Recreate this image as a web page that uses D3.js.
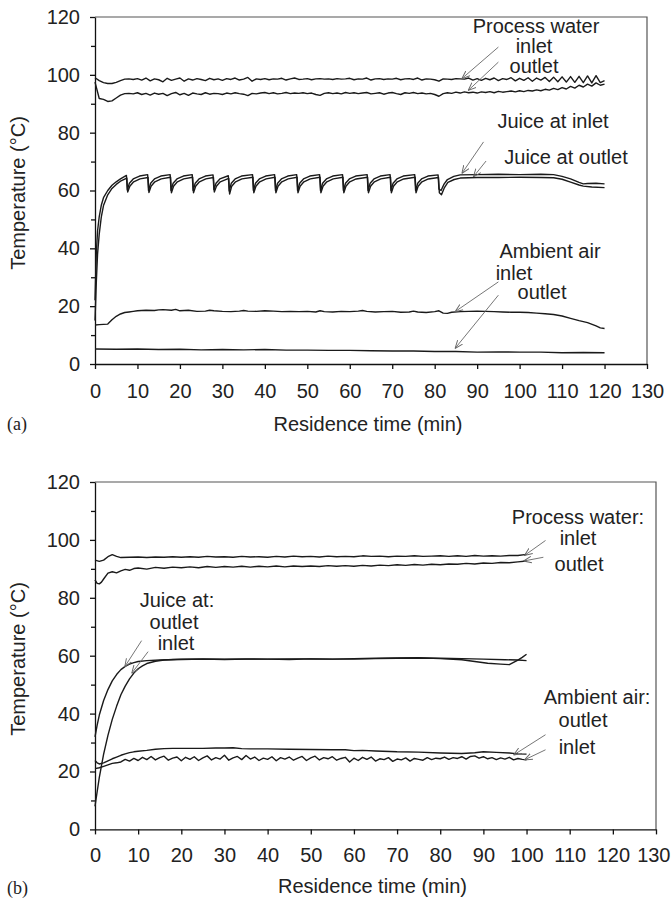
<!DOCTYPE html>
<html>
<head>
<meta charset="utf-8">
<script src="https://cdn.jsdelivr.net/npm/d3@7"></script>
<style>
  body { margin: 0; background: #fff; }
  svg { display: block; }
  .axis path, .axis line { stroke: #111; stroke-width: 1.3; }
  .axis text { fill: #222; }
</style>
</head>
<body>
<div id="chart"></div>
<script>
// ---- data ----
const xTicks = [0, 10, 20, 30, 40, 50, 60, 70, 80, 90, 100, 110, 120, 130];
const yTicks = [0, 20, 40, 60, 80, 100, 120];
const yMinorTicks = [10, 30, 50, 70, 90, 110];

// (a) process water, sampled once a minute, 0..120 min
const minutesA = d3.range(0, 121);
const waterInA = [
  99.0, 98.0, 97.3, 97.0, 97.0, 97.4, 98.0, 98.5, 98.6, 98.4,
  98.7, 98.2, 98.9, 97.9, 98.6, 98.3, 97.6, 98.8, 98.1, 98.5,
  98.9, 97.8, 98.6, 98.2, 98.7, 98.4, 98.0, 98.8, 98.3, 98.6,
  98.1, 98.7, 98.4, 98.9, 98.2, 98.5, 99.1, 97.8, 98.6, 98.4,
  98.7, 98.3, 98.6, 98.5, 98.8, 98.2, 98.6, 98.9, 98.4, 98.5,
  98.7, 98.3, 98.6, 98.7, 98.5, 98.6, 98.4, 98.7, 98.5, 98.6,
  98.8, 98.3, 98.6, 98.5, 98.9, 98.2, 98.6, 98.7, 98.4, 98.6,
  98.5, 98.8, 98.3, 98.6, 98.7, 98.4, 98.9, 98.2, 98.6, 98.5,
  98.3, 97.8, 98.6, 98.5, 98.4, 98.7, 98.6, 98.5, 98.9, 98.2,
  98.7, 98.1, 98.8, 98.3, 98.9, 98.0, 98.7, 98.4, 99.0, 97.9,
  98.8, 98.1, 99.0, 97.8, 98.9, 98.2, 99.1, 97.7, 99.2, 97.6,
  99.3, 97.5, 99.4, 97.4, 99.5, 97.3, 99.6, 97.2, 99.7, 97.3, 98.0
];
const waterOutA = [
  97.5, 91.8, 91.5, 90.8, 91.0, 92.0, 93.0, 93.5, 93.6, 93.4,
  93.8, 93.2, 93.6, 93.0, 93.7, 93.3, 93.6, 92.8, 93.5, 93.9,
  93.1, 93.6, 92.9, 93.7, 93.4, 93.2, 93.8, 93.3, 93.6, 93.5,
  93.2, 93.7, 93.4, 93.8, 93.5, 93.3, 92.8, 93.6, 93.4, 93.7,
  93.9, 93.5, 93.8, 93.4, 93.6, 93.9, 93.5, 93.7, 93.6, 93.8,
  93.5, 93.7, 93.2, 92.9, 93.6, 93.8, 93.5, 93.7, 93.4, 93.9,
  93.6, 93.8, 93.5, 93.7, 93.9, 93.4, 93.6, 93.8, 93.3, 93.7,
  93.9, 93.5, 93.2, 93.8, 93.6, 93.9, 93.5, 93.7, 93.4, 93.6,
  93.2, 92.6, 93.5, 93.8, 93.6, 94.0, 93.7, 94.1, 93.8, 94.0,
  93.7, 94.1, 93.9, 94.2, 93.8, 94.3, 94.0, 94.2, 94.4, 94.1,
  94.5, 94.2, 94.6, 94.4, 94.8, 94.5, 95.0, 94.7, 95.3, 94.9,
  95.6, 95.1, 96.0, 95.4, 96.4, 95.8, 96.8, 96.1, 97.2, 96.4, 96.8
];

// (a) juice, [min, degC]
const juiceInA = [
  [0, 22], [0.3, 38], [0.6, 46], [1, 51], [1.5, 55], [2, 57.5], [3, 60], [4, 61.8], [5, 63], [6, 64], [7.4, 65.2],
  [7.6, 60.2], [8.1, 62.5], [9, 64], [10.5, 65], [12.4, 65.5],
  [12.6, 60], [13.1, 62.5], [14, 64], [15.5, 65], [17.7, 65.5],
  [17.9, 60], [18.4, 62.5], [19.3, 64], [20.8, 65], [22.9, 65.5],
  [23.1, 60], [23.6, 62.5], [24.5, 64], [26, 65], [27.8, 65.4],
  [28, 60.3], [28.5, 62.5], [29.4, 64], [31.4, 65.1],
  [31.6, 59.8], [32.1, 62.5], [33, 64], [34.5, 65], [37.1, 65.5],
  [37.3, 60], [37.8, 62.5], [38.7, 64], [40.2, 65], [42.3, 65.5],
  [42.5, 60], [43, 62.5], [43.9, 64], [45.4, 65], [47.5, 65.5],
  [47.7, 60], [48.2, 62.5], [49.1, 64], [50.6, 65], [52.9, 65.5],
  [53.1, 60], [53.6, 62.5], [54.5, 64], [56, 65], [58.3, 65.5],
  [58.5, 60], [59, 62.5], [59.9, 64], [61.4, 65], [64.1, 65.5],
  [64.3, 60], [64.8, 62.5], [65.7, 64], [67.2, 65], [69.5, 65.5],
  [69.7, 60], [70.2, 62.5], [71.1, 64], [72.6, 65], [75.3, 65.5],
  [75.5, 60], [76, 62.5], [76.9, 64], [78.4, 65], [80.8, 65.4],
  [81, 60.5], [81.5, 60], [82.2, 62.2], [83, 63.8], [84.5, 64.9], [86, 65.4], [90, 65.5], [95, 65.6],
  [100, 65.5], [105, 65.6], [108, 65.5], [110, 64.9], [112, 64], [114, 62.8], [115, 62.3], [116, 62.4],
  [118, 62.5], [120, 62.3]
];
const juiceOutA = [
  [0, 15], [0.3, 28], [0.6, 38], [1, 45], [1.5, 51], [2, 54.8], [3, 58.5], [4, 60.7], [5, 62.1], [6, 63.2], [7.5, 64.3],
  [7.7, 59.5], [8.2, 61.5], [9.1, 63], [10.6, 64], [12.5, 64.5],
  [12.7, 59.3], [13.2, 61.5], [14.1, 63], [15.6, 64], [17.8, 64.6],
  [18, 59.2], [18.5, 61.5], [19.4, 63], [20.9, 64], [23, 64.6],
  [23.2, 59.2], [23.7, 61.5], [24.6, 63], [26.1, 64], [27.9, 64.5],
  [28.1, 59.5], [28.6, 61.5], [29.5, 63], [31.5, 64.2],
  [31.7, 58.8], [32.2, 61.5], [33.1, 63], [34.6, 64], [37.2, 64.6],
  [37.4, 59.2], [37.9, 61.5], [38.8, 63], [40.3, 64], [42.4, 64.6],
  [42.6, 59.2], [43.1, 61.5], [44, 63], [45.5, 64], [47.6, 64.6],
  [47.8, 59.2], [48.3, 61.5], [49.2, 63], [50.7, 64], [53, 64.6],
  [53.2, 59.2], [53.7, 61.5], [54.6, 63], [56.1, 64], [58.4, 64.6],
  [58.6, 59.2], [59.1, 61.5], [60, 63], [61.5, 64], [64.2, 64.6],
  [64.4, 59.2], [64.9, 61.5], [65.8, 63], [67.3, 64], [69.6, 64.6],
  [69.8, 59.2], [70.3, 61.5], [71.2, 63], [72.7, 64], [75.4, 64.6],
  [75.6, 59.2], [76.1, 61.5], [77, 63], [78.5, 64], [80.9, 64.5],
  [81.1, 59.2], [81.6, 58.5], [82.3, 61], [83.1, 62.8], [84.6, 63.8], [86, 64.3], [90, 64.5], [95, 64.5],
  [100, 64.6], [105, 64.5], [108, 64.4], [110, 63.9], [112, 62.9], [114, 61.9], [115, 61.5], [117, 61.2], [120, 61]
];

// (a) ambient air
const airInA = [
  [0, 13.5], [1, 13.6], [2, 13.7], [3, 13.8], [4, 15.3], [5, 16.5], [6, 17.3], [7, 17.8], [8, 18.0], [9, 18.2],
  [10, 18.4], [12, 18.6], [14, 18.5], [15, 18.7], [16, 18.8], [18, 18.6], [19, 18.9], [20, 18.4], [22, 18.6],
  [24, 18.2], [26, 18.3], [27, 18.6], [28, 18.4], [30, 18.2], [32, 18.1], [34, 18.3], [35, 18.5], [36, 18.3],
  [38, 18.2], [40, 18.4], [42, 18.3], [44, 18.1], [46, 18.2], [48, 18.1], [50, 18.2], [52, 18.0], [53, 18.4],
  [54, 18.1], [56, 18.0], [58, 18.2], [60, 18.1], [62, 18.3], [63, 18.5], [64, 18.2], [66, 18.0], [68, 18.1],
  [70, 18.2], [72, 17.9], [74, 18.0], [75, 18.3], [76, 18.0], [78, 17.8], [80, 18.1], [81, 18.4], [82, 17.6],
  [83, 17.5], [84, 17.9], [86, 18.1], [88, 18.2], [90, 18.3], [92, 18.2], [94, 18.1], [96, 18.0], [98, 17.9],
  [100, 17.9], [102, 17.8], [104, 17.6], [106, 17.4], [108, 17.1], [110, 16.6], [112, 15.8], [114, 15.0],
  [116, 14.3], [118, 13.2], [119, 12.5], [120, 12.3]
];
const airOutA = [
  [0, 5.2], [5, 5.1], [10, 5.2], [15, 5.0], [20, 5.1], [25, 4.9], [30, 5.0], [35, 4.9], [40, 5.0], [45, 4.8],
  [50, 4.8], [55, 4.7], [60, 4.7], [65, 4.6], [70, 4.5], [75, 4.5], [80, 4.3], [85, 4.3], [90, 4.1], [95, 4.2],
  [100, 4.1], [105, 4.1], [110, 3.9], [115, 4.0], [120, 3.9]
];

// (b) process water
const waterInB = [
  [0, 93.0], [1, 92.6], [2, 93.0], [3, 94.2], [4, 94.9], [5, 94.3], [6, 93.9], [8, 94.0], [10, 94.1], [12, 93.9],
  [14, 94.1], [16, 94.0], [18, 94.2], [20, 94.0], [22, 94.2], [24, 94.0], [26, 94.3], [28, 94.1], [30, 94.2],
  [32, 94.0], [34, 94.3], [36, 94.1], [38, 94.2], [40, 94.0], [42, 94.3], [44, 94.1], [46, 94.4], [48, 94.2],
  [50, 94.3], [52, 94.1], [54, 94.4], [56, 94.2], [58, 94.3], [60, 94.2], [62, 94.5], [64, 94.3], [66, 94.4],
  [68, 94.2], [70, 94.4], [72, 94.3], [74, 94.5], [76, 94.3], [78, 94.4], [80, 94.5], [82, 94.3], [84, 94.5],
  [86, 94.3], [88, 94.6], [90, 94.4], [92, 94.5], [94, 94.4], [96, 94.6], [98, 94.6], [100, 95.0]
];
const waterOutB = [
  [0, 86.2], [0.5, 85.0], [1, 84.8], [1.5, 85.4], [2, 86.5], [3, 88.5], [4, 89.0], [5, 88.6], [6, 89.3], [7, 89.8],
  [8, 89.5], [9, 90.1], [10, 90.3], [12, 89.9], [14, 90.5], [16, 90.2], [18, 90.6], [20, 90.4], [22, 90.7],
  [24, 90.4], [26, 90.8], [28, 90.5], [30, 90.8], [32, 90.6], [34, 90.9], [36, 90.6], [38, 90.9], [40, 90.7],
  [42, 91.0], [44, 90.7], [46, 91.0], [48, 90.8], [50, 91.0], [52, 90.8], [54, 91.1], [56, 90.9], [58, 91.1],
  [60, 90.9], [62, 91.2], [64, 91.0], [66, 91.3], [68, 91.1], [70, 91.4], [72, 91.2], [74, 91.5], [76, 91.3],
  [78, 91.6], [80, 91.4], [82, 91.7], [84, 91.6], [86, 91.9], [88, 91.7], [90, 92.0], [92, 91.9], [94, 92.2],
  [96, 92.1], [98, 92.4], [100, 92.7]
];

// (b) juice
const juiceInB = [
  [0, 8], [0.5, 13], [1, 18], [2, 26], [3, 32.5], [4, 38], [5, 42.5], [6, 46.5], [7, 49.5], [8, 52], [9, 54],
  [10, 55.5], [11, 56.5], [12, 57.3], [14, 58.1], [16, 58.5], [18, 58.7], [20, 58.8], [25, 58.9], [30, 58.8],
  [35, 58.9], [40, 58.8], [45, 58.9], [50, 58.9], [55, 58.8], [60, 59.0], [65, 59.1], [70, 59.2], [75, 59.3],
  [80, 59.0], [85, 58.6], [88, 58.0], [91, 57.4], [94, 57.1], [96, 56.9], [97, 57.7], [98, 58.5], [99, 59.4], [100, 60.5]
];
const juiceOutB = [
  [0, 32], [0.5, 36], [1, 39.5], [2, 44.5], [3, 48.3], [4, 51.3], [5, 53.5], [6, 55.2], [7, 56.3], [8, 57.1],
  [9, 57.6], [10, 58.0], [12, 58.3], [15, 58.5], [20, 58.7], [25, 58.8], [30, 58.7], [35, 58.8], [40, 58.8],
  [45, 58.7], [50, 58.9], [55, 58.8], [60, 58.8], [65, 59.0], [70, 59.1], [75, 59.2], [80, 59.1], [85, 59.0],
  [90, 58.8], [95, 58.6], [98, 58.5], [100, 58.3]
];

// (b) ambient air; inlet sampled once a minute, 0..100 min
const minutesB = d3.range(0, 101);
const airInB = [
  21.0, 21.3, 21.8, 22.3, 22.8, 23.0, 23.3, 24.2, 23.6, 24.5,
  23.8, 24.9, 24.1, 25.2, 24.0, 24.8, 25.3, 23.9, 24.6, 25.0,
  23.7, 24.9, 24.2, 25.1, 23.8, 24.7, 25.4, 24.0, 24.8, 24.3,
  25.6, 23.9, 24.7, 25.2, 24.1, 25.5, 24.3, 25.0, 23.8, 24.6,
  24.2, 25.1, 23.7, 24.8, 24.3, 25.0, 23.9, 24.6, 25.2, 23.8,
  24.7, 25.3, 24.0, 24.8, 24.4, 25.1, 23.9, 24.5, 24.9, 23.3,
  24.6, 23.8, 24.9, 24.2, 25.0, 23.6, 24.4, 24.1, 24.8, 23.5,
  24.3, 24.0, 24.7, 23.6, 24.5, 24.2, 23.9, 24.8, 24.1, 24.6,
  24.4, 25.0, 24.2, 24.8, 24.5, 25.1, 24.3, 25.2, 25.4, 24.6,
  25.1, 24.4, 24.8, 24.1, 24.7, 24.3, 24.9, 24.0, 24.5, 24.2,
  24.0
];
const airOutB = [
  [0, 23.8], [0.5, 23.0], [1, 22.6], [2, 23.0], [3, 23.7], [4, 24.4], [5, 25.0], [6, 25.6], [7, 26.1], [8, 26.5],
  [9, 26.8], [10, 27.0], [12, 27.3], [14, 27.7], [16, 27.9], [18, 28.0], [20, 28.0], [25, 28.0], [28, 28.1],
  [30, 28.1], [32, 28.2], [34, 27.9], [36, 27.8], [40, 27.8], [45, 27.7], [50, 27.6], [55, 27.5], [58, 27.5],
  [60, 27.2], [62, 27.3], [65, 27.1], [70, 26.8], [75, 26.7], [80, 26.4], [85, 26.2], [88, 26.5], [90, 26.8],
  [93, 26.6], [96, 26.4], [98, 26.1], [100, 26.0]
];

// pointer lines: [tail t, tail T, tip t, tip T] in data units
const arrowsA = [
  [95.0, 109.6, 86.4, 98.7], [95.0, 104.4, 87.9, 94.6],
  [91.5, 76.8, 86.4, 65.9], [92.1, 70.2, 89.1, 64.7],
  [95.0, 28.4, 84.8, 18.1], [95.0, 23.8, 84.8, 5.4]
];
const arrowsB = [
  [104.4, 99.8, 99.5, 94.6], [103.9, 94.0, 99.3, 92.7],
  [10.8, 65.2, 6.9, 56.2], [12.3, 61.4, 8.5, 53.9],
  [104.4, 32.7, 97.0, 25.7], [104.4, 27.5, 99.5, 24.0]
];
const labelsA = ["Process water", "inlet", "outlet", "Juice at inlet", "Juice at outlet", "Ambient air", "inlet", "outlet"];
const labelsB = ["Process water:", "inlet", "outlet", "Juice at:", "outlet", "inlet", "Ambient air:", "outlet", "inlet"];

// ---- layout ----
const FONT = "'Liberation Sans', Arial, Helvetica, sans-serif";
const width = 671, height = 900;

const svg = d3.select("#chart").append("svg")
  .attr("width", width).attr("height", height)
  .style("background", "#fff");

const defs = svg.append("defs");
defs.append("marker")
  .attr("id", "tip")
  .attr("viewBox", "0 0 10 10")
  .attr("refX", 10).attr("refY", 5)
  .attr("markerWidth", 8).attr("markerHeight", 8)
  .attr("markerUnits", "userSpaceOnUse")
  .attr("orient", "auto")
  .append("path")
  .attr("d", "M0,1 L10,5 L0,9")
  .attr("fill", "none")
  .attr("stroke", "#666")
  .attr("stroke-width", 1.2);

const panels = [
  {
    left: 95, right: 647, top: 17, bottom: 364, padX: 15,
    tag: "(a)", tagY: 430, titleY: 431, yTitleY: 193,
    series: [
      minutesA.map((t, i) => [t, waterInA[i]]),
      minutesA.map((t, i) => [t, waterOutA[i]]),
      juiceInA, juiceOutA, airInA, airOutA
    ],
    arrows: arrowsA,
    labels: labelsA,
    labelPos: [[536, 33], [534, 53], [534, 73], [553, 128], [566, 164], [550, 258], [514, 280], [542, 299]]
  },
  {
    left: 95, right: 656, top: 482, bottom: 829.4, padX: 13,
    tag: "(b)", tagY: 894, titleY: 893, yTitleY: 659,
    series: [
      waterInB, waterOutB, juiceInB, juiceOutB,
      minutesB.map((t, i) => [t, airInB[i]]),
      airOutB
    ],
    arrows: arrowsB,
    labels: labelsB,
    labelPos: [[578, 524], [578, 545], [579, 571], [177, 607], [174, 629], [176, 650], [597, 704], [583, 727], [577, 754]]
  }
];

panels.forEach(drawPanel);

function drawPanel(p) {
  const x = d3.scaleLinear().domain([0, 130]).range([p.left, p.right]);
  const y = d3.scaleLinear().domain([0, 120]).range([p.bottom, p.top]);

  // frame on top and right
  svg.append("path")
    .attr("d", `M${p.left},${p.top}H${p.right}V${p.bottom}`)
    .attr("fill", "none")
    .attr("stroke", "#555")
    .attr("stroke-width", 1.2);

  // y axis, minor ticks first
  svg.append("g")
    .attr("class", "axis")
    .attr("transform", `translate(${p.left},0)`)
    .call(d3.axisLeft(y).tickValues(yMinorTicks).tickSize(4).tickFormat(""))
    .select(".domain").remove();

  svg.append("g")
    .attr("class", "axis")
    .attr("transform", `translate(${p.left},0)`)
    .call(d3.axisLeft(y).tickValues(yTicks).tickSize(5).tickSizeOuter(0).tickPadding(10))
    .attr("font-family", FONT)
    .attr("font-size", 20);

  const xAxisG = svg.append("g")
    .attr("class", "axis")
    .attr("transform", `translate(0,${p.bottom})`)
    .call(d3.axisBottom(x).tickValues(xTicks).tickSize(5).tickSizeOuter(0).tickPadding(p.padX))
    .attr("font-family", FONT)
    .attr("font-size", 20);

  // keep the last label inside the page
  xAxisG.selectAll(".tick text")
    .filter(d => x(d) + 17 > width)
    .attr("text-anchor", "end")
    .attr("dx", width - 1 - x(130));

  // series
  const line = d3.line().x(d => x(d[0])).y(d => y(d[1]));
  p.series.forEach(s => {
    svg.append("path")
      .datum(s)
      .attr("d", line)
      .attr("fill", "none")
      .attr("stroke", "#1a1a1a")
      .attr("stroke-width", 1.4)
      .attr("stroke-linejoin", "round");
  });

  // pointer lines
  p.arrows.forEach(a => {
    svg.append("line")
      .attr("x1", x(a[0])).attr("y1", y(a[1]))
      .attr("x2", x(a[2])).attr("y2", y(a[3]))
      .attr("stroke", "#666")
      .attr("stroke-width", 0.9)
      .attr("marker-end", "url(#tip)");
  });

  // annotation text
  p.labels.forEach((txt, i) => {
    svg.append("text")
      .attr("x", p.labelPos[i][0])
      .attr("y", p.labelPos[i][1])
      .attr("text-anchor", "middle")
      .attr("font-family", FONT)
      .attr("font-size", 20)
      .attr("fill", "#222")
      .text(txt);
  });

  // axis titles
  svg.append("text")
    .attr("x", (p.left + p.right) / 2 - 3)
    .attr("y", p.titleY)
    .attr("text-anchor", "middle")
    .attr("font-family", FONT)
    .attr("font-size", 20)
    .attr("fill", "#222")
    .text("Residence time (min)");

  svg.append("text")
    .attr("transform", `translate(25,${p.yTitleY}) rotate(-90)`)
    .attr("text-anchor", "middle")
    .attr("font-family", FONT)
    .attr("font-size", 20)
    .attr("fill", "#222")
    .text("Temperature (°C)");

  svg.append("text")
    .attr("x", 7)
    .attr("y", p.tagY)
    .attr("font-family", "'Liberation Serif', 'Times New Roman', serif")
    .attr("font-size", 18)
    .attr("fill", "#222")
    .text(p.tag);
}
</script>
</body>
</html>
